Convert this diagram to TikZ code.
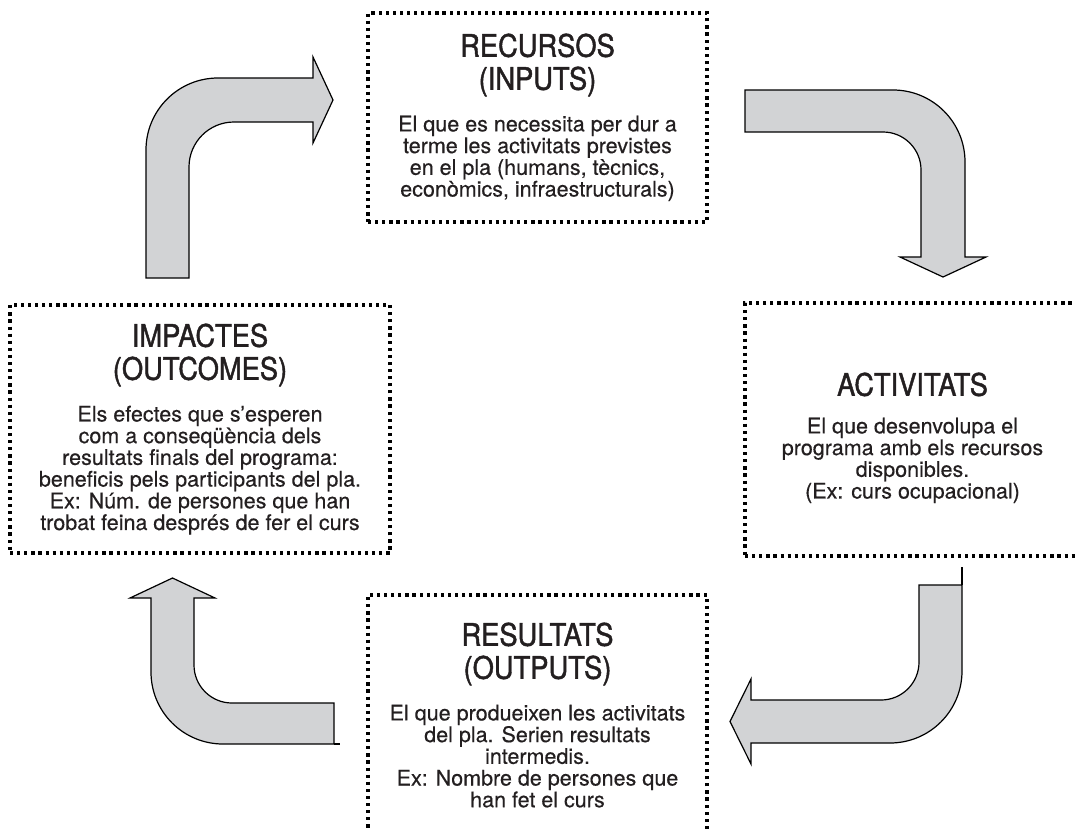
\documentclass[tikz,border=0pt]{standalone}
\usepackage{fontspec}
\setmainfont{TeX Gyre Heros}
\newfontfamily\headfont[FakeStretch=0.88,FakeBold=1.4]{TeX Gyre Heros}
\newfontfamily\blurbfont[FakeBold=0.4]{TeX Gyre Heros}
\usepackage{tikz}
\usetikzlibrary{positioning}
\definecolor{arrowgray}{RGB}{210,211,213}
\definecolor{inkgray}{RGB}{35,31,32}

\begin{document}
\begin{tikzpicture}[x=1pt,y=-1pt,node distance=20pt]
  \tikzstyle{box}=[draw=black,line width=3.2pt,dash pattern=on 3.2pt off 3.9pt,inner sep=0pt]
  \tikzstyle{head}=[inner sep=0pt,align=center,text=inkgray,font=\headfont\fontsize{31}{33}\selectfont]
  \tikzstyle{body}=[inner sep=0pt,align=center,text=inkgray,font=\blurbfont\fontsize{21.5}{21.7}\selectfont]
  \tikzstyle{bigarrow}=[fill=arrowgray,draw=black,line width=1.2pt,line join=miter]

  \useasboundingbox (0,0) rectangle (1075,828);
  \clip (0,0) rectangle (1075,828);

  \node[box,minimum width=339pt,minimum height=209pt] (rec) at (537.5,117.5) {};
  \node[box,minimum width=335pt,minimum height=253pt] (act) at (912.5,429.5) {};
  \node[box,minimum width=339pt,minimum height=250pt] (res) at (537.5,720)   {};
  \node[box,minimum width=380pt,minimum height=248pt] (imp) at (200,429)     {};

  \node[head,below=22pt of rec.north] (recT) {RECURSOS\\(INPUTS)};
  \node[body,below=19pt of recT]      (recB) {El que es necessita per dur a\\terme les activitats previstes\\en el pla (humans, tècnics,\\econòmics, infraestructurals)};

  \node[head,below=71pt of act.north] (actT) {ACTIVITATS};
  \node[body,below=21pt of actT]      (actB) {El que desenvolupa el\\programa amb els recursos\\disponibles.\\(Ex: curs ocupacional)};

  \node[head,below=29pt of res.north] (resT) {RESULTATS\\(OUTPUTS)};
  \node[body,below=19pt of resT]      (resB) {El que produeixen les activitats\\del pla. Serien resultats\\intermedis.\\Ex: Nombre de persones que\\han fet el curs};

  \node[head,below=20pt of imp.north] (impT) {IMPACTES\\(OUTCOMES)};
  \node[body,below=19pt of impT]      (impB) {Els efectes que s’esperen\\com a conseqüència dels\\resultats finals del programa:\\beneficis pels participants del pla.\\Ex: Núm. de persones que han\\trobat feina després de fer el curs};

  \filldraw[bigarrow] (146,278) -- (146,150) .. controls (146,110.2) and (178.2,78) .. (218,78) -- (313,78) -- (313,57) -- (333,100) -- (313,143) -- (313,122) -- (234,122) .. controls (209.1,122) and (189,142.1) .. (189,167) -- (189,278) -- cycle;
  \filldraw[bigarrow] (745,90) -- (893,90) .. controls (932.8,90) and (965,122.2) .. (965,162) -- (965,257) -- (986,257) -- (943,277) -- (900,257) -- (921,257) -- (921,170) .. controls (921,149) and (904,132) .. (883,132) -- (745,132) -- cycle;
  \filldraw[bigarrow] (919,585) -- (962,585) -- (962,671) .. controls (962,710.8) and (929.8,743) .. (890,743) -- (751,743) -- (751,764) -- (730,721.5) -- (751,679) -- (751,700) -- (881,700) .. controls (902,700) and (919,683) .. (919,662) -- cycle;
  \filldraw[bigarrow] (334,744) -- (223,744) .. controls (183.2,744) and (151,711.8) .. (151,672) -- (151,598) -- (130,598) -- (172.5,578) -- (215,598) -- (194,598) -- (194,665) .. controls (194,686) and (211,703) .. (232,703) -- (334,703) -- cycle;
  \draw[bigarrow] (962,567) -- (962,585);
  \draw[bigarrow] (334,744) -- (340,744);
\end{tikzpicture}
\end{document}
